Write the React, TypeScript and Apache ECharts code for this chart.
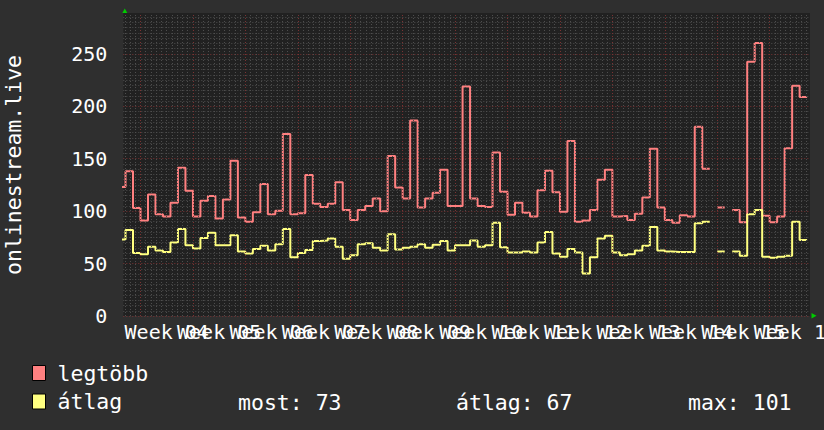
import React, { useEffect, useRef } from "react";
import * as echarts from "echarts";

// ---- data (daily values, first value belongs to day FIRST_DAY; day 0 = Monday of Week 04) ----
const FIRST_DAY = -3;
const legtobb: (number | null)[] = [
  123, 138, 103, 91, 116, 97, 95, 108, 141.5, 119.5, 95, 110, 114.5, 93, 111, 148, 94, 90, 99, 126, 97, 100.5, 173.5,
  97, 98, 134.5, 107, 104, 107, 127.5, 101, 91.5, 101, 105, 112, 100, 152.5, 122.5, 112, 186.5, 103.5, 112, 117.5,
  139.5, 105, 105, 219, 112, 105, 104, 156, 118.5, 96.5, 108, 98.5, 95, 120, 138.5, 118, 99.5, 167, 90, 91, 101, 130,
  139.5, 95, 95.5, 91.5, 97.5, 113, 159.5, 103.5, 91.5, 89, 96, 95, 180.5, 140.5, null, 103.5, null, 101, 89.5, 242.5,
  260.5, 95.5, 89.5, 95, 160, 219.5, 209,
];
const atlag: (number | null)[] = [
  73, 82, 60, 59, 66, 62.5, 61, 70, 83, 67.5, 64.5, 74.5, 79.5, 67.5, 67.5, 77, 61.5, 59.5, 64, 67, 62.5, 68.5, 83,
  56, 60, 63, 71.5, 72, 74, 66, 54.5, 58, 68.5, 69.5, 65, 62.5, 78, 63.5, 65, 66, 68.5, 65, 68, 71.5, 62.5, 67.5,
  67.5, 72, 66, 67.5, 89, 65.5, 60.5, 60.5, 61.5, 60.5, 70, 80, 59.5, 56.5, 64, 60.5, 40.5, 56, 74, 76.5, 60.5, 58,
  59, 62.5, 67, 85, 62.5, 61.5, 61, 61, 61, 88.5, 90, null, 61.5, null, 61.5, 57.5, 97, 101, 56.5, 55.5, 56.5, 57.5,
  90, 72.5,
];
const weekLabels = [
  "Week 04", "Week 05", "Week 06", "Week 07", "Week 08", "Week 09", "Week 10",
  "Week 11", "Week 12", "Week 13", "Week 14", "Week 15", "Week 16",
];
const weekStarts = [0, 7, 14, 21, 28, 35, 42, 49, 56, 63, 70, 77, 84];
const seriesNames = ["legtöbb", "átlag"];
const statTexts = ["most: 73", "átlag: 67", "max: 101"];

// ---- styling ----
const FONT = "DejaVu Sans Mono";
const BG = "#2f2f2f";
const PLOT_BG = "#212121";
const MINOR = "#4e4e4e";
const MAJOR = "#7a3333";
const RED = "#ff8080";
const YELLOW = "#ffff80";
const TEXT = "#ffffff";
const ARROW = "#00cc00";

const X_MIN = -2.296;
const X_MAX = 89.385;

function stepPoints(vals: (number | null)[]) {
  const pts: any[] = [];
  vals.forEach((v, i) => {
    const d = FIRST_DAY + i;
    if (v == null) {
      pts.push([d, "-"]);
      return;
    }
    pts.push([d, v]);
    pts.push([d + 1, v]);
  });
  return pts;
}

export default function App() {
  const ref = useRef<HTMLDivElement>(null);
  useEffect(() => {
    const chart = echarts.init(ref.current!, null, { renderer: "svg" });

    const vLines: any[] = [];
    const firstMinor = Math.ceil(X_MIN / 0.7);
    const lastMinor = Math.floor(X_MAX / 0.7);
    for (let k = firstMinor; k <= lastMinor; k++) {
      const d = +(k * 0.7).toFixed(4);
      const major = k % 10 === 0 && weekStarts.includes(Math.round(d));
      vLines.push({
        xAxis: d,
        lineStyle: { color: major ? MAJOR : MINOR, type: [1, 2], width: 1 },
      });
    }
    const yColors = Array.from({ length: 10 }, (_, i) => (i === 0 ? MAJOR : MINOR));
    const labelPos = weekStarts.map((w) => w + 3.5);

    const baseGraphics: any[] = [
      {
        id: "ytitle",
        type: "text",
        x: 13,
        y: 165,
        rotation: Math.PI / 2,
        style: {
          text: "onlinestream.live",
          fill: TEXT,
          font: `21.5px "${FONT}"`,
          align: "center",
          verticalAlign: "middle",
        },
      },
      {
        id: "arrowTop",
        type: "polygon",
        shape: { points: [[122.3, 13], [127.3, 13], [124.8, 8.5]] },
        style: { fill: ARROW },
      },
      {
        id: "arrowRight",
        type: "polygon",
        shape: { points: [[811.5, 313], [811.5, 318.5], [816.5, 315.7]] },
        style: { fill: ARROW },
      },
      ...statTexts.map((t, i) => ({
        id: "stat" + i,
        type: "text",
        x: [238, 456, 688][i],
        y: 402,
        style: {
          text: t,
          fill: TEXT,
          font: `21.5px "${FONT}"`,
          align: "left",
          verticalAlign: "middle",
        },
      })),
    ];

    chart.setOption({
      animation: false,
      backgroundColor: BG,
      textStyle: { fontFamily: FONT },
      grid: {
        left: 123.3,
        top: 13,
        width: 686.7,
        height: 303,
        show: true,
        backgroundColor: PLOT_BG,
        borderWidth: 0,
      },
      xAxis: {
        type: "value",
        min: X_MIN,
        max: X_MAX,
        axisLine: { show: false },
        axisTick: { show: false },
        splitLine: { show: false },
        axisLabel: { show: false },
      },
      yAxis: {
        type: "value",
        min: 0,
        max: 289,
        interval: 5,
        axisLine: { show: false },
        axisTick: { show: false },
        axisLabel: {
          formatter: (v: number) => (v % 50 === 0 ? String(v) : ""),
          color: TEXT,
          fontFamily: FONT,
          fontSize: 20,
          margin: 16,
          showMaxLabel: false,
        },
        splitLine: {
          show: true,
          showMaxLine: false,
          lineStyle: { color: yColors, type: [1, 2], width: 1 },
        },
      },
      legend: {
        orient: "vertical",
        left: 27,
        top: 357,
        itemWidth: 13,
        itemHeight: 15,
        itemGap: 6.5,
        icon: "rect",
        selectedMode: false,
        data: seriesNames,
        itemStyle: { borderColor: "#000", borderWidth: 1 },
        textStyle: { color: TEXT, fontFamily: FONT, fontSize: 21.5, padding: [0, 0, 0, 7] },
      },
      series: [
        {
          type: "line",
          name: "grid",
          data: [],
          z: 1,
          silent: true,
          symbol: "none",
          markLine: {
            silent: true,
            symbol: ["none", "none"],
            label: { show: false },
            animation: false,
            data: vLines,
          },
        },
        {
          type: "line",
          name: seriesNames[0],
          data: stepPoints(legtobb),
          z: 3,
          symbol: "none",
          connectNulls: false,
          itemStyle: { color: RED },
          lineStyle: { color: RED, width: 2 },
        },
        {
          type: "line",
          name: seriesNames[1],
          data: stepPoints(atlag),
          z: 4,
          symbol: "none",
          connectNulls: false,
          itemStyle: { color: YELLOW },
          lineStyle: { color: YELLOW, width: 2 },
        },
      ],
      graphic: { elements: baseGraphics },
    });

    // x-axis week labels, placed at mid-week through the axis scale
    const labelGraphics = labelPos.map((p, i) => {
      const px = chart.convertToPixel({ xAxisIndex: 0 }, p) as number;
      return {
        id: "xlab" + i,
        type: "text",
        x: px,
        y: 332,
        style: {
          text: weekLabels[i],
          fill: TEXT,
          font: `20px "${FONT}"`,
          align: "center",
          verticalAlign: "middle",
        },
      };
    });
    chart.setOption({ graphic: { elements: [...baseGraphics, ...labelGraphics] } });

    return () => chart.dispose();
  }, []);
  return <div ref={ref} style={{ position: "fixed", left: 0, top: 0, width: 824, height: 430 }} />;
}
